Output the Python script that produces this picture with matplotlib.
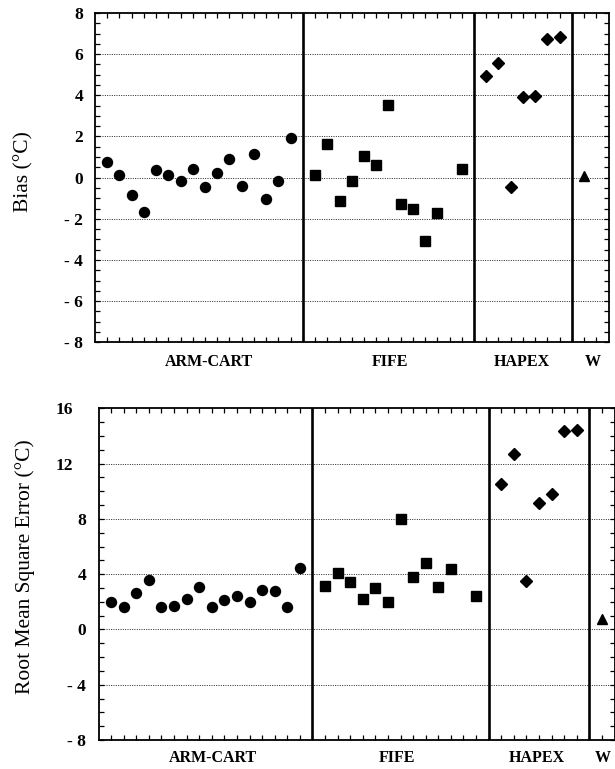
import matplotlib
matplotlib.use("Agg")
import matplotlib.pyplot as plt
from matplotlib.ticker import FixedLocator, MultipleLocator, FixedFormatter, NullFormatter
from matplotlib.transforms import blended_transform_factory, ScaledTranslation

# ---------------- data ----------------
groups = ["ARM-CART", "FIFE", "HAPEX", "W"]

arm_x = list(range(1, 17))
fife_x = [18, 19, 20, 21, 22, 23, 24, 25, 26, 27, 28, 30]
hapex_x = [32, 33, 34, 35, 36, 37, 38]
w_x = [40]

bias_arm = [0.78, 0.15, -0.86, -1.65, 0.39, 0.15, -0.15, 0.44, -0.47, 0.24,
            0.92, -0.39, 1.15, -1.03, -0.18, 1.94]
bias_fife = [0.14, 1.65, -1.15, -0.18, 1.07, 0.62, 3.54, -1.3, -1.52, -3.08, -1.72, 0.44]
bias_hapex = [4.92, 5.57, -0.47, 3.93, 3.96, 6.75, 6.84]
bias_w = [0.06]

rmse_arm = [1.98, 1.64, 2.61, 3.55, 1.64, 1.72, 2.22, 3.05, 1.64, 2.15,
            2.42, 1.98, 2.83, 2.76, 1.62, 4.47]
rmse_fife = [3.16, 4.1, 3.43, 2.18, 3.02, 2.0, 7.99, 3.82, 4.83, 3.07, 4.37, 2.44]
rmse_hapex = [10.54, 12.69, 3.5, 9.12, 9.82, 14.38, 14.4]
rmse_w = [0.73]

separators = [17, 31, 39]

bias_ticks = [-8, -6, -4, -2, 0, 2, 4, 6, 8]
bias_labels = ["- 8", "- 6", "- 4", "- 2", "0", "2", "4", "6", "8"]
rmse_ticks = [-8, -4, 0, 4, 8, 12, 16]
rmse_labels = ["- 8", "- 4", "0", "4", "8", "12", "16"]

# ---------------- figure ----------------
SERIF = ["Liberation Serif", "DejaVu Serif"]
plt.rcParams["font.family"] = SERIF

W, H = 615, 769
fig = plt.figure(figsize=(W / 100, H / 100), dpi=100)

def px_axes(left, top, right, bottom):
    return fig.add_axes([left / W, 1 - bottom / H, (right - left) / W, (bottom - top) / H])

ax1 = px_axes(95, 13, 608.5, 342.3)
ax2 = px_axes(98.5, 408.3, 614.5, 740)

def style(ax, xmax, ylim, ticks, labels, minor, label_pos, label_off, pad):
    ax.set_xlim(0, xmax)
    ax.set_ylim(*ylim)
    ax.xaxis.set_major_locator(FixedLocator(list(range(1, xmax))))
    ax.xaxis.set_major_formatter(NullFormatter())
    ax.yaxis.set_major_locator(FixedLocator(ticks))
    ax.yaxis.set_major_formatter(FixedFormatter(labels))
    ax.yaxis.set_minor_locator(MultipleLocator(minor))
    ax.tick_params(axis="both", which="both", direction="in", length=3.4,
                   width=0.9, top=True, right=True, color="black")
    ax.tick_params(axis="y", which="major", pad=pad, labelsize=12.5)
    for lab in ax.get_yticklabels():
        lab.set_fontweight("bold")
    for s in ax.spines.values():
        s.set_linewidth(1.3)
    for t in ticks[1:-1]:
        ax.axhline(t, color="#222222", lw=0.7, ls=(0, (1, 1.4)), zorder=1)
    for sx in separators:
        ax.axvline(sx, color="black", lw=1.9, zorder=2)
    trans = blended_transform_factory(ax.transData, ax.transAxes)
    for name, xp in zip(groups, label_pos):
        ax.text(xp, label_off, name, transform=trans, ha="center", va="center",
                fontsize=11.5, fontweight="bold")

def plot_points(ax, series):
    for xs, ys, mk, ms in series:
        ax.plot(xs, ys, ls="none", marker=mk, ms=ms, color="black",
                markeredgecolor="black", zorder=3, clip_on=False)

style(ax1, 42, (-8, 8), bias_ticks, bias_labels, 0.5, [9.35, 24.1, 34.9, 40.7], -0.06, 8.5)
plot_points(ax1, [(arm_x, bias_arm, "o", 7.2),
                  (fife_x, bias_fife, "s", 6.6),
                  (hapex_x, bias_hapex, "D", 5.8),
                  (w_x, bias_w, "^", 6.6)])

style(ax2, 41, (-8, 16), rmse_ticks, rmse_labels, 1, [9.06, 23.7, 34.8, 40.1], -0.055, 9)
plot_points(ax2, [(arm_x, rmse_arm, "o", 7.2),
                  (fife_x, rmse_fife, "s", 6.6),
                  (hapex_x, rmse_hapex, "D", 5.8),
                  (w_x, rmse_w, "^", 6.6)])

# two-digit labels sit further left in the reference
for lab in ax2.get_yticklabels():
    if lab.get_text() in ("16", "12"):
        lab.set_transform(lab.get_transform() + ScaledTranslation(-0.13, 0, fig.dpi_scale_trans))

fig.text(24 / W, 1 - 172 / H, "Bias (°C)", rotation=90, ha="center", va="center", fontsize=15.5)
fig.text(25.5 / W, 1 - 567 / H, "Root Mean Square Error (°C)", rotation=90,
         ha="center", va="center", fontsize=15.5)

fig.savefig("out.png", dpi=100)
